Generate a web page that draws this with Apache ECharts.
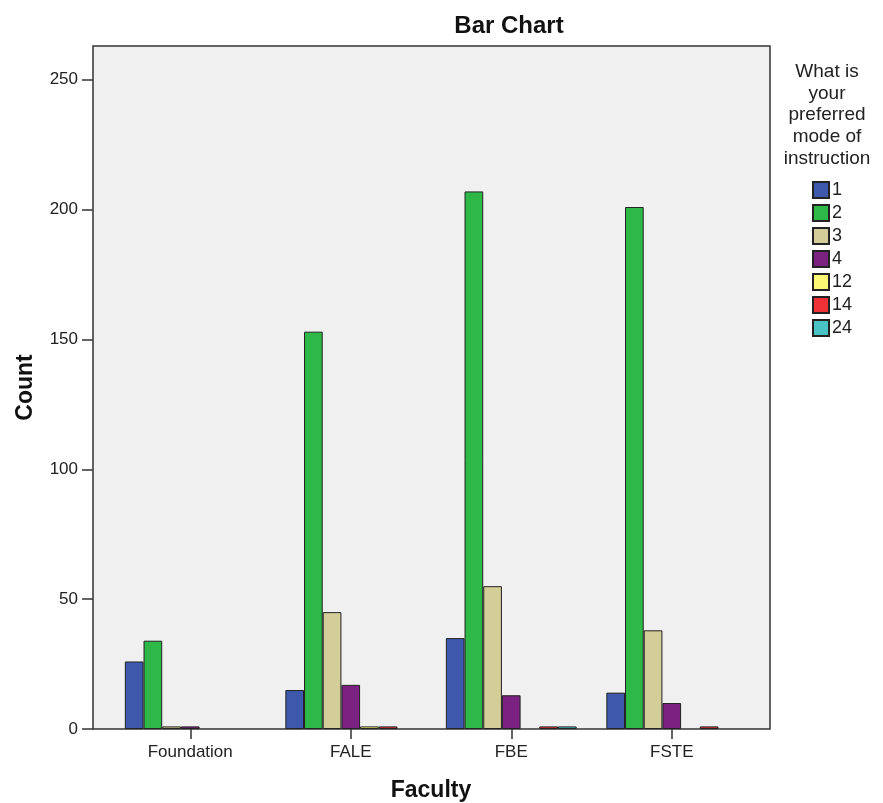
<!DOCTYPE html>
<html>
<head>
<meta charset="utf-8">
<script src="https://cdn.jsdelivr.net/npm/echarts@6/dist/echarts.min.js"></script>
<style>
html,body{margin:0;padding:0;background:#fff;}
#chart{width:883px;height:803px;}
</style>
</head>
<body>
<div id="chart"></div>
<script>
var categories = ['Foundation', 'FALE', 'FBE', 'FSTE'];
var seriesNames = ['1', '2', '3', '4', '12', '14', '24'];
var mode1 = [26, 15, 35, 14];
var mode2 = [34, 153, 207, 201];
var mode3 = [1, 45, 55, 38];
var mode4 = [1, 17, 13, 10];
var mode12 = [0, 1, 0, 0];
var mode14 = [0, 1, 1, 1];
var mode24 = [0, 0, 1, 0];
var yTicks = [0, 50, 100, 150, 200, 250];
var colors = ['#3e58ac', '#2eb848', '#d3ce97', '#7b2281', '#fbf873', '#ee3238', '#48c2c5'];

var FONT = 'Arial, "Liberation Sans", sans-serif';
var values = [mode1, mode2, mode3, mode4, mode12, mode14, mode24];

var series = seriesNames.map(function (name, i) {
  return {
    name: name,
    type: 'bar',
    xAxisIndex: 0,
    yAxisIndex: 0,
    barGap: '0%',
    barCategoryGap: '18.5%',
    data: values[i].map(function (v) { return v === 0 ? null : v; }),
    itemStyle: { color: colors[i], borderColor: '#222', borderWidth: 1 },
    emphasis: { disabled: true }
  };
});

var chart = echarts.init(document.getElementById('chart'), null, { renderer: 'canvas' });
chart.setOption({
  animation: false,
  backgroundColor: '#fff',
  grid: [
    { left: 110, right: 131, top: 46, bottom: 74, containLabel: false, outerBoundsMode: 'none' },
    { left: 93, right: 113, top: 46, bottom: 74, show: true, backgroundColor: '#f0f0f0', borderColor: '#333', borderWidth: 1.5, z: -1, outerBoundsMode: 'none' }
  ],
  xAxis: [
    {
      type: 'category',
      gridIndex: 0,
      data: categories,
      name: 'Faculty',
      nameLocation: 'middle',
      nameGap: 50,
      nameTextStyle: { fontFamily: FONT, fontSize: 23, fontWeight: 'bold', color: '#111' },
      axisLine: { show: false },
      axisTick: { show: true, alignWithLabel: true, length: 10, lineStyle: { color: '#333', width: 1.5 } },
      axisLabel: { fontFamily: FONT, fontSize: 17, color: '#222', margin: 15 },
      splitLine: { show: false }
    },
    { type: 'category', gridIndex: 1, show: false, data: categories }
  ],
  yAxis: [
    {
      type: 'value',
      gridIndex: 0,
      min: 0,
      max: 263,
      interval: 50,
      offset: 17,
      name: 'Count',
      nameLocation: 'middle',
      nameGap: 56,
      nameRotate: 90,
      nameTextStyle: { fontFamily: FONT, fontSize: 23, fontWeight: 'bold', color: '#111' },
      axisLine: { show: false },
      axisTick: { show: true, length: 11, customValues: yTicks, lineStyle: { color: '#333', width: 1.5 } },
      axisLabel: { fontFamily: FONT, fontSize: 17, color: '#222', margin: 15, customValues: yTicks },
      splitLine: { show: false }
    },
    { type: 'value', gridIndex: 1, show: false, min: 0, max: 263 }
  ],
  legend: {
    orient: 'vertical',
    left: 812,
    top: 181,
    padding: 0,
    itemWidth: 16,
    itemHeight: 16,
    itemGap: 5,
    icon: 'rect',
    data: seriesNames,
    textStyle: { fontFamily: FONT, fontSize: 18, color: '#222', padding: [0, 0, 0, -2] },
    selectedMode: false
  },
  graphic: [
    {
      type: 'text',
      x: 509,
      y: 26,
      style: {
        text: 'Bar Chart',
        font: 'bold 24px ' + FONT,
        fill: '#111',
        textAlign: 'center',
        textVerticalAlign: 'middle'
      }
    },
    {
      type: 'text',
      x: 827,
      y: 61,
      style: {
        text: 'What is\nyour\npreferred\nmode of\ninstruction',
        font: '19px ' + FONT,
        fill: '#222',
        textAlign: 'center',
        textVerticalAlign: 'top',
        lineHeight: 21.7
      }
    }
  ],
  series: series
});
</script>
</body>
</html>
